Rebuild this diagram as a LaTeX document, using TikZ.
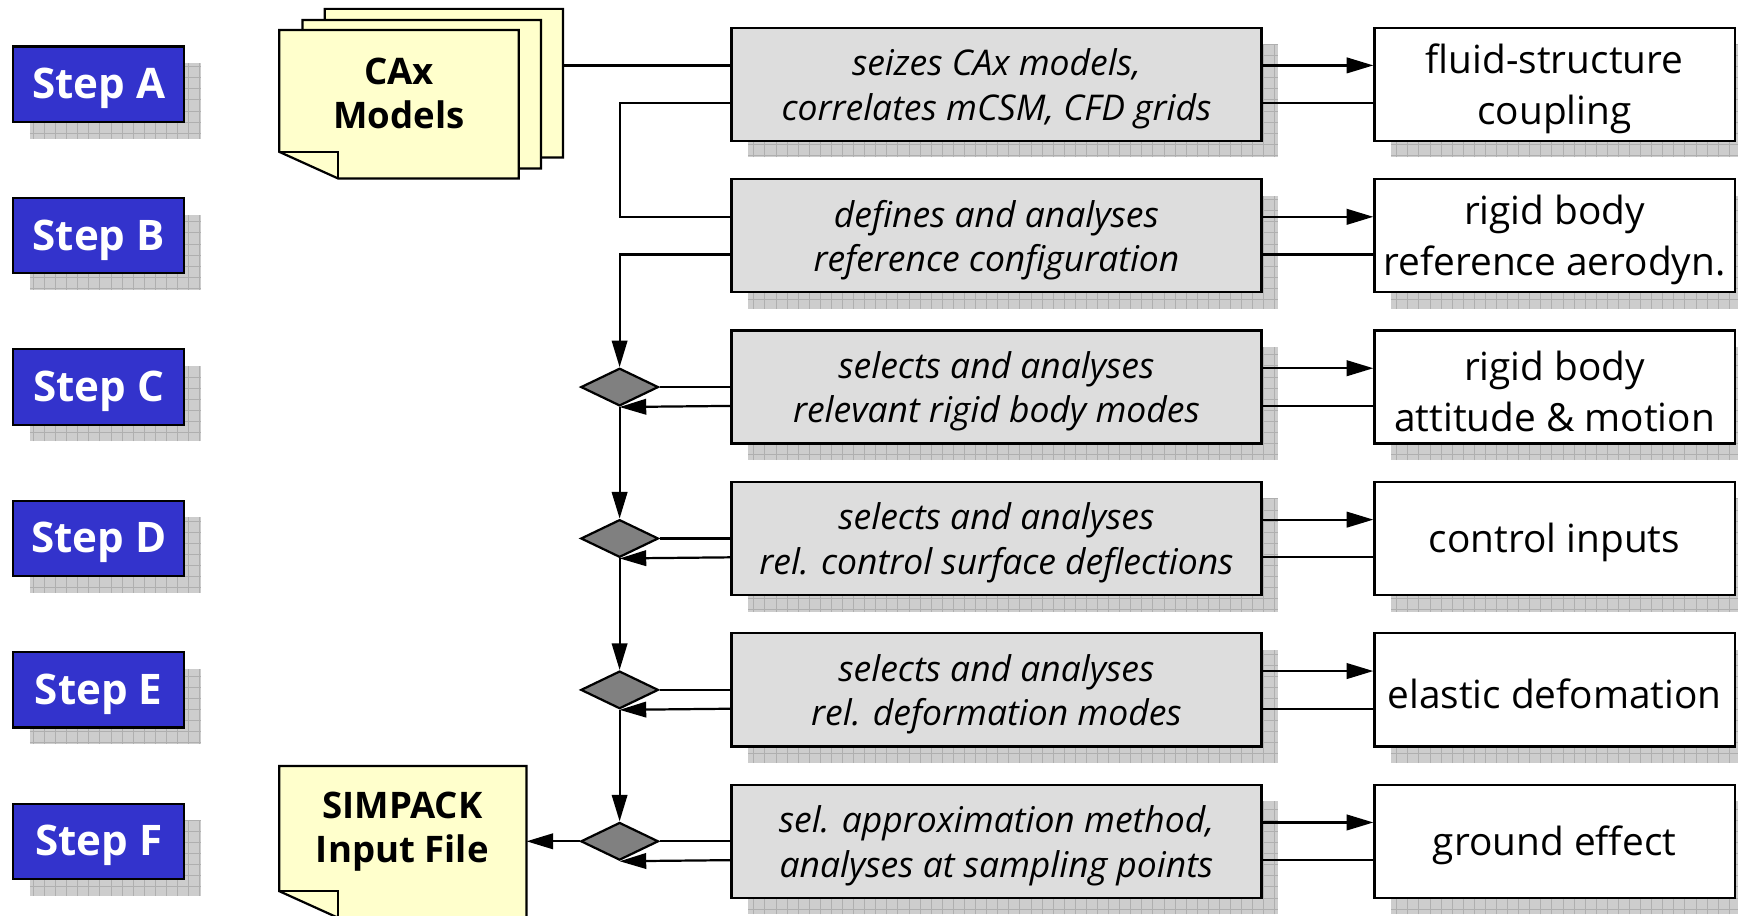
\documentclass[tikz,border=0pt]{standalone}
\usepackage{fontspec}
\setmainfont{Open Sans}
\usetikzlibrary{shapes.geometric,arrows.meta}
\definecolor{stepblue}{RGB}{51,51,204}
\definecolor{boxgray}{RGB}{221,221,221}
\definecolor{docyellow}{RGB}{255,255,204}
\definecolor{shadowgray}{RGB}{205,205,205}
\definecolor{shadowline}{RGB}{175,175,175}
\definecolor{diagray}{RGB}{128,128,128}
\newcommand\shbox[4]{\fill[shfill] (#1,#2) rectangle (#3,#4); \draw[shgrid] (#1,#4) grid (#3,#2);}
\newcommand\mydoc[4]{%
  \filldraw[docst] (#1,#2) -- (#3,#2) -- (#3,#4) -- (#1+53,#4) -- (#1,#4-24) -- cycle;
  \draw[docst,fill=none] (#1,#4-24) -- (#1+53,#4-24) -- (#1+53,#4);}
\begin{document}
\begin{tikzpicture}[x=0.5pt,y=-0.5pt,
 stepbox/.style={draw=black, fill=stepblue, line width=1pt, minimum width=77pt, minimum height=34pt, inner sep=0pt, text=white, font=\fontsize{19}{22}\selectfont\bfseries, execute at begin node={\rule{0pt}{17.6pt}}},
 actbox/.style={draw, fill=boxgray, line width=1pt, minimum width=239pt, minimum height=51pt, inner sep=0pt},
 acttext/.style={align=center, inner sep=0pt, yshift=-2pt, font=\fontsize{16}{20}\selectfont\itshape},
 act/.style={label={[acttext]center:{#1}}},
 resbox/.style={draw, fill=white, line width=1pt, minimum width=162.5pt, minimum height=51pt, inner sep=0pt, align=center, font=\fontsize{17.5}{23}\selectfont},
 restext/.style={align=center, inner sep=0pt, yshift=-2pt, font=\fontsize{17.5}{23}\selectfont},
 res/.style={label={[restext]center:{#1}}},
 decision/.style={diamond, draw, fill=diagray, line width=1pt, inner sep=0pt, minimum width=35pt, minimum height=17pt, aspect=2},
 doctext/.style={align=center, font=\fontsize{16.5}{20}\selectfont\bfseries},
 docst/.style={draw, fill=docyellow, line width=1pt, line join=miter},
 conn/.style={line width=1pt},
 arr/.style={conn, -{Triangle[length=12pt,width=7pt]}},
 shfill/.style={fill=shadowgray},
 shgrid/.style={draw=shadowline, line width=0.3pt, step=5pt},
]
\useasboundingbox (0,0) rectangle (1568,826);
% shadows
\foreach \c in {76,212.6,349.2,485.8,622.4,759}{
  \shbox{27}{\c-19}{181}{\c+49}
  \shbox{675}{\c-36}{1153}{\c+66}
  \shbox{1255}{\c-36}{1580}{\c+66}
}
% documents
\mydoc{293}{8}{508}{142}
\mydoc{273}{18}{488}{152}
\mydoc{252}{27}{468}{161}
\node[doctext] (cax) at (360,84) {CAx\\Models};
\coordinate (caxR) at (508,59);
\mydoc{252}{691}{475}{828}
\node[doctext] (simpack) at (363,750) {SIMPACK\\Input File};
\coordinate (simR) at (475,759);
% step boxes
\node[stepbox] (sA) at (89,76) {Step A};
\node[stepbox] (sB) at (89,212.6) {Step B};
\node[stepbox] (sC) at (89,349.2) {Step C};
\node[stepbox] (sD) at (89,485.8) {Step D};
\node[stepbox] (sE) at (89,622.4) {Step E};
\node[stepbox] (sF) at (89,759) {Step F};
% activity boxes
\node[actbox, act={seizes CAx models,\\correlates mCSM, CFD grids}] (gA) at (899,76) {};
\node[actbox, act={defines and analyses\\reference configuration}] (gB) at (899,212.6) {};
\node[actbox, act={selects and analyses\\relevant rigid body modes}] (gC) at (899,349.2) {};
\node[actbox, act={selects and analyses\\rel. control surface deflections}] (gD) at (899,485.8) {};
\node[actbox, act={selects and analyses\\rel. deformation modes}] (gE) at (899,622.4) {};
\node[actbox, act={sel. approximation method,\\analyses at sampling points}] (gF) at (899,759) {};
% result boxes
\node[resbox, res={fluid-structure\\coupling}] (wA) at (1402.5,76) {};
\node[resbox, res={rigid body\\reference aerodyn.}] (wB) at (1402.5,212.6) {};
\node[resbox, res={rigid body\\attitude \& motion}] (wC) at (1402.5,349.2) {};
\node[resbox, res={control inputs}] (wD) at (1402.5,485.8) {};
\node[resbox, res={elastic defomation}] (wE) at (1402.5,622.4) {};
\node[resbox, res={ground effect}] (wF) at (1402.5,759) {};
% decisions
\node[decision] (dC) at (559,349.2) {};
\node[decision] (dD) at (559,485.8) {};
\node[decision] (dE) at (559,622.4) {};
\node[decision] (dF) at (559,759) {};
% connectors
\draw[conn] (caxR) -- ([yshift=8.5pt]gA.west);
\draw[conn] ([yshift=-8.5pt]gA.west) -| ([yshift=8.5pt]gB.west -| dC) -- ([yshift=8.5pt]gB.west);
\draw[arr] ([yshift=-8.5pt]gB.west) -| (dC.north);
\draw[arr] (dC.south) -- (dD.north);
\draw[arr] (dD.south) -- (dE.north);
\draw[arr] (dE.south) -- (dF.north);
\draw[arr] (dF.west) -- (simR);
\foreach \r in {C,D,E,F}{
  \draw[conn] (d\r.east) -- (g\r.west);
  \draw[arr] ([yshift=-8.5pt]g\r.west) -- (d\r.south);
}
\foreach \r in {A,B,C,D,E,F}{
  \draw[arr] ([yshift=8.5pt]g\r.east) -- ([yshift=8.5pt]w\r.west);
  \draw[conn] ([yshift=-8.5pt]g\r.east) -- ([yshift=-8.5pt]w\r.west);
}
\end{tikzpicture}
\end{document}
